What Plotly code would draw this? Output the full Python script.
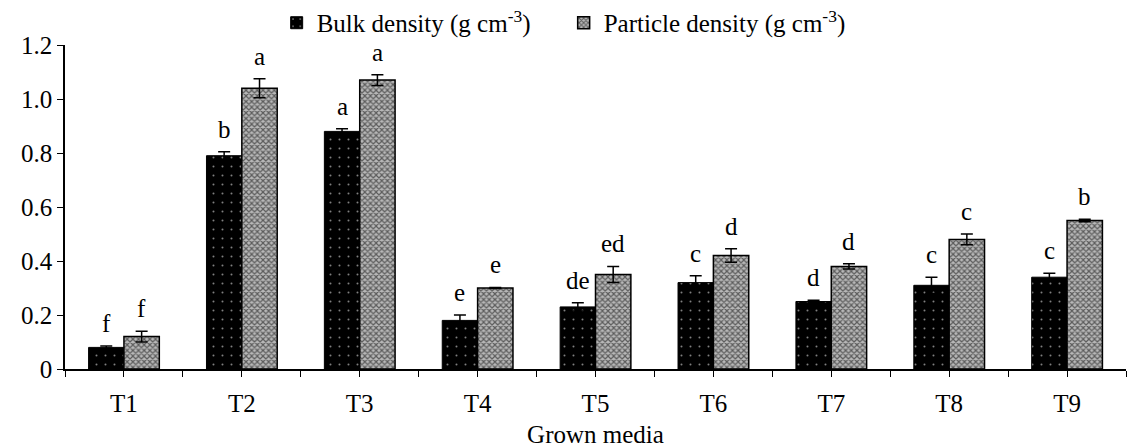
import plotly.graph_objects as go

categories = ["T1", "T2", "T3", "T4", "T5", "T6", "T7", "T8", "T9"]
bulk = [0.08, 0.79, 0.88, 0.18, 0.23, 0.32, 0.25, 0.31, 0.34]
bulk_err = [0.005, 0.015, 0.01, 0.02, 0.015, 0.025, 0.005, 0.03, 0.015]
particle = [0.12, 1.04, 1.07, 0.30, 0.35, 0.42, 0.38, 0.48, 0.55]
particle_err = [0.02, 0.035, 0.02, 0.002, 0.03, 0.025, 0.01, 0.02, 0.005]
bulk_letters = ["f", "b", "a", "e", "de", "c", "d", "c", "c"]
particle_letters = ["f", "a", "a", "e", "ed", "d", "d", "c", "b"]
y_ticks = [0, 0.2, 0.4, 0.6, 0.8, 1.0, 1.2]
y_ticktext = ["0", "0.2", "0.4", "0.6", "0.8", "1.0", "1.2"]

# numeric positions of the categories; ticks drawn at centres and at boundaries
xpos = list(range(len(categories)))
x_tickvals = []
x_ticktext = []
for i, c in enumerate(categories):
    x_tickvals += [i - 0.5, i]
    x_ticktext += ["", c]
x_tickvals.append(len(categories) - 0.5)
x_ticktext.append("")

FONT = "Liberation Serif, Times New Roman, serif"
FS = 25
fig = go.Figure()
fig.add_trace(go.Bar(
    name="Bulk density (g cm<sup>-3</sup>)", x=xpos, y=bulk,
    error_y=dict(type="data", array=bulk_err, color="black", thickness=1.5, width=6),
    marker=dict(color="black", line=dict(color="black", width=1),
                pattern=dict(shape=".", fgcolor="white", bgcolor="black", size=9, solidity=0.04)),
))
fig.add_trace(go.Bar(
    name="Particle density (g cm<sup>-3</sup>)", x=xpos, y=particle,
    error_y=dict(type="data", array=particle_err, color="black", thickness=1.5, width=6),
    marker=dict(color="white", line=dict(color="black", width=1.5),
                pattern=dict(shape="x", fgcolor="black", bgcolor="#b8b8b8", size=4, solidity=0.5)),
))

shift = 17.7
for i in xpos:
    fig.add_annotation(x=i, y=bulk[i] + bulk_err[i], text=bulk_letters[i], xshift=-shift,
                       yshift=7, yanchor="bottom", showarrow=False,
                       font=dict(family=FONT, size=FS, color="black"))
    fig.add_annotation(x=i, y=particle[i] + particle_err[i], text=particle_letters[i], xshift=shift,
                       yshift=7, yanchor="bottom", showarrow=False,
                       font=dict(family=FONT, size=FS, color="black"))

fig.update_layout(
    width=1148, height=448,
    margin=dict(l=65, r=22, t=45, b=79, autoexpand=False),
    paper_bgcolor="white", plot_bgcolor="white",
    barmode="group", bargap=0.4, bargroupgap=0,
    font=dict(family=FONT, size=FS, color="black"),
    legend=dict(orientation="h", x=0.47, xanchor="center", y=1.068, yanchor="middle",
                font=dict(family=FONT, size=FS), itemwidth=30, entrywidth=242,
                traceorder="normal"),
    xaxis=dict(title=dict(text="Grown media", font=dict(family=FONT, size=FS), standoff=12),
               range=[-0.5, len(categories) - 0.5],
               tickmode="array", tickvals=x_tickvals, ticktext=x_ticktext,
               showline=True, linecolor="black", linewidth=1.5,
               ticks="outside", ticklen=6, tickcolor="black",
               ticklabelstandoff=5,
               tickfont=dict(family=FONT, size=FS), showgrid=False, zeroline=False),
    yaxis=dict(range=[0, 1.2], tickvals=y_ticks, ticktext=y_ticktext,
               showline=True, linecolor="black", linewidth=1.5,
               ticks="outside", ticklen=6, tickcolor="black",
               tickfont=dict(family=FONT, size=FS), showgrid=False, zeroline=False),
)
fig.write_html("out.html")
